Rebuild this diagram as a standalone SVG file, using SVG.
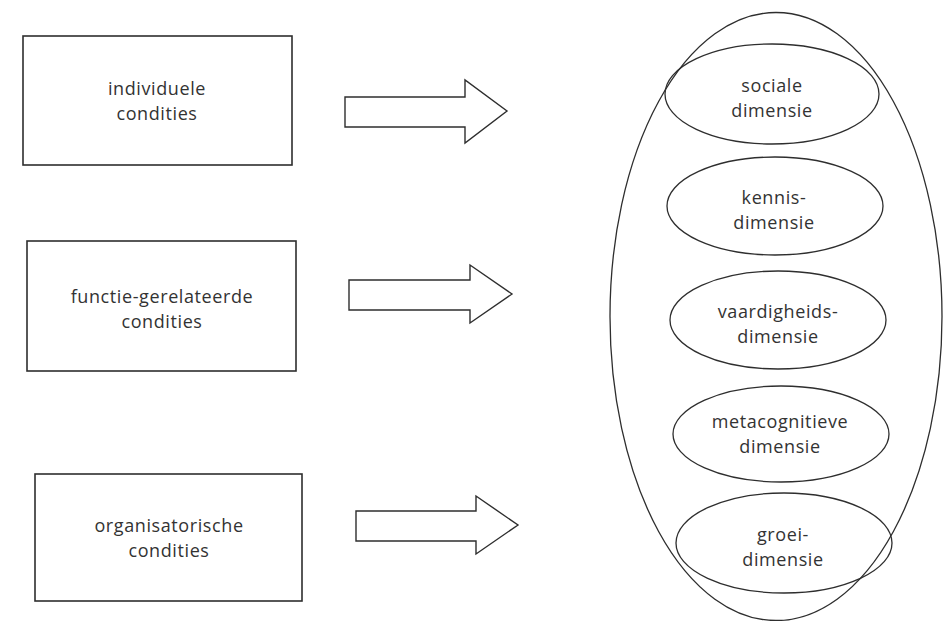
<svg xmlns="http://www.w3.org/2000/svg" width="948" height="621" viewBox="0 0 948 621">
<style>
.box{fill:none;stroke:#2e2e2e;stroke-width:1.6}
.arr{fill:#fff;stroke:#2e2e2e;stroke-width:1.4;stroke-linejoin:miter}
.ell{fill:none;stroke:#2e2e2e;stroke-width:1.3}
text{font-family:"Open Sans","Noto Sans","DejaVu Sans",sans-serif;font-size:18px;letter-spacing:0.6px;fill:#333;text-anchor:middle}
</style>
<rect width="948" height="621" fill="#fff"/>
<g id="box-individuele">
<rect class="box" x="23" y="36" width="269" height="129"/>
<text x="157" y="95">individuele</text>
<text x="157" y="120">condities</text>
</g>
<g id="box-functie">
<rect class="box" x="27" y="241" width="269" height="130"/>
<text x="162" y="303">functie-gerelateerde</text>
<text x="162" y="328">condities</text>
</g>
<g id="box-organisatorisch">
<rect class="box" x="35" y="474" width="267" height="127"/>
<text x="169" y="532">organisatorische</text>
<text x="169" y="557">condities</text>
</g>
<g id="connectors">
<polygon class="arr" points="345,97 465,97 465,80 507,111 465,143 465,127 345,127"/>
<polygon class="arr" points="349,280 470,280 470,265 512,294 470,323 470,310 349,310"/>
<polygon class="arr" points="356,511 476,511 476,496 518,525 476,554 476,541 356,541"/>
</g>
<g id="outer">
<ellipse class="ell" cx="776" cy="316.5" rx="166" ry="304"/>
</g>
<g id="sociale">
<ellipse class="ell" cx="772" cy="94" rx="107" ry="50"/>
<text x="772" y="92">sociale</text>
<text x="772" y="117">dimensie</text>
</g>
<g id="kennis">
<ellipse class="ell" cx="775" cy="206" rx="108" ry="49"/>
<text x="774" y="204">kennis-</text>
<text x="774" y="229">dimensie</text>
</g>
<g id="vaardigheids">
<ellipse class="ell" cx="778" cy="320" rx="108" ry="49"/>
<text x="778" y="318">vaardigheids-</text>
<text x="778" y="343">dimensie</text>
</g>
<g id="metacognitieve">
<ellipse class="ell" cx="781" cy="434" rx="108" ry="48"/>
<text x="780" y="428">metacognitieve</text>
<text x="780" y="453">dimensie</text>
</g>
<g id="groei">
<ellipse class="ell" cx="784" cy="543" rx="108" ry="50"/>
<text x="783" y="541">groei-</text>
<text x="783" y="566">dimensie</text>
</g>
</svg>
